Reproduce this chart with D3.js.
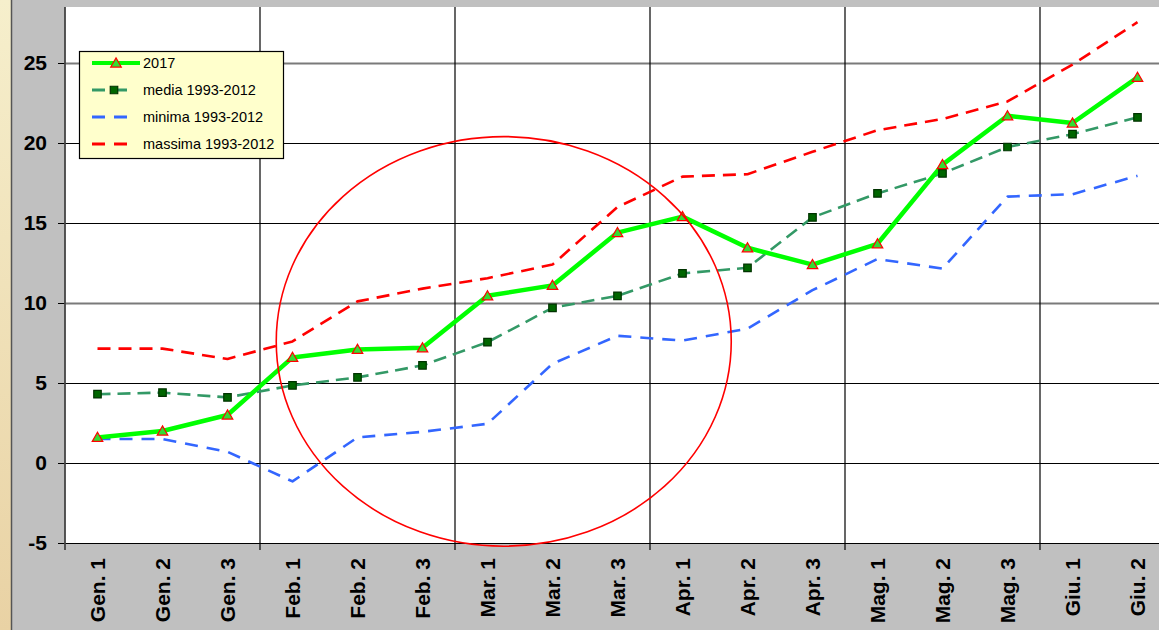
<!DOCTYPE html>
<html>
<head>
<meta charset="utf-8">
<script src="https://cdn.jsdelivr.net/npm/d3@7"></script>
<style>
  body { margin: 0; background: #fff; }
  svg { display: block; font-family: "Liberation Sans", Arial, sans-serif; }
</style>
</head>
<body>
<svg id="chart" width="1159" height="630"></svg>
<script>
// categories (decadi)
const categories = ["Gen. 1", "Gen. 2", "Gen. 3", "Feb. 1", "Feb. 2", "Feb. 3",
                    "Mar. 1", "Mar. 2", "Mar. 3", "Apr. 1", "Apr. 2", "Apr. 3",
                    "Mag. 1", "Mag. 2", "Mag. 3", "Giu. 1", "Giu. 2"];

const values2017 = [1.6, 2.0, 3.0, 6.6, 7.1, 7.2, 10.45, 11.1, 14.4, 15.4, 13.45, 12.4, 13.7, 18.65, 21.7, 21.25, 24.1];
const media      = [4.3, 4.4, 4.1, 4.85, 5.35, 6.1, 7.55, 9.7, 10.45, 11.85, 12.2, 15.35, 16.85, 18.1, 19.75, 20.55, 21.6];
const minima     = [1.5, 1.5, 0.7, -1.15, 1.6, 1.95, 2.45, 6.2, 7.95, 7.65, 8.4, 10.8, 12.75, 12.15, 16.65, 16.8, 17.95];
const massima    = [7.15, 7.15, 6.5, 7.6, 10.1, 10.9, 11.55, 12.4, 16.0, 17.9, 18.05, 19.45, 20.8, 21.5, 22.6, 24.9, 27.55];

const yTicks = [-5, 0, 5, 10, 15, 20, 25];

// annotation ellipse in data units (category index, value)
const ellipse = { cx: 6.75, cy: 7.6, rx: 3.5, ry: 12.8 };

const svg = d3.select("#chart"),
      W = +svg.attr("width"),
      H = +svg.attr("height");

const plot = { left: 65, top: 7, bottom: 543 };
const band = 65;

const x = d3.scaleBand()
    .domain(categories)
    .range([plot.left, plot.left + band * categories.length])
    .padding(0);

const xi = d3.scaleLinear()
    .domain([0, categories.length])
    .range([plot.left, plot.left + band * categories.length]);

const y = d3.scaleLinear()
    .domain([-5, 28.5])
    .range([plot.bottom, plot.top]);

const cx = d => x(d) + x.bandwidth() / 2;

// background
const defs = svg.append("defs");
const grad = defs.append("linearGradient").attr("id", "beige")
    .attr("x1", 0).attr("y1", 0).attr("x2", 0).attr("y2", 1);
grad.append("stop").attr("offset", "0%").attr("stop-color", "#f6efcc");
grad.append("stop").attr("offset", "100%").attr("stop-color", "#e9d2a4");

svg.append("rect").attr("x", 0).attr("y", 0).attr("width", 11).attr("height", H).attr("fill", "url(#beige)");
svg.append("rect").attr("x", 11).attr("y", 0).attr("width", W - 11).attr("height", H).attr("fill", "#c0c0c0");
svg.append("line").attr("x1", 11.5).attr("x2", 11.5).attr("y1", 0).attr("y2", H)
    .attr("stroke", "#555").attr("stroke-width", 1.5);

svg.append("rect")
    .attr("x", plot.left).attr("y", plot.top)
    .attr("width", W - plot.left).attr("height", plot.bottom - plot.top)
    .attr("fill", "#fff");

// y axis (hyphen minus as in the original)
const yAxis = svg.append("g")
    .attr("transform", `translate(${plot.left},0)`)
    .call(d3.axisLeft(y).tickValues(yTicks).tickSize(7).tickPadding(11).tickFormat(d => String(d)));
yAxis.select(".domain").remove();
yAxis.selectAll("text")
    .attr("font-size", "21px").attr("font-weight", "bold").attr("fill", "#000")
    .attr("font-family", "'Liberation Sans', Arial, sans-serif");
yAxis.selectAll(".tick line").attr("stroke", "#000");

// horizontal grid
svg.append("g").selectAll("line")
    .data(yTicks)
    .enter().append("line")
    .attr("x1", plot.left).attr("x2", W)
    .attr("y1", d => Math.round(y(d)) + 0.5).attr("y2", d => Math.round(y(d)) + 0.5)
    .attr("stroke", d => (d === 25 || d === 10) ? "#7a7a7a" : "#000")
    .attr("stroke-width", d => (d === 25 || d === 10) ? 2 : 1.2);

// vertical grid lines every month (3 decadi)
const monthBounds = d3.range(3, categories.length, 3);
svg.append("g").selectAll("line")
    .data(monthBounds)
    .enter().append("line")
    .attr("x1", d => xi(d)).attr("x2", d => xi(d))
    .attr("y1", plot.top).attr("y2", plot.bottom + 7)
    .attr("stroke", "#000").attr("stroke-width", 1.2);

// left axis line
svg.append("line")
    .attr("x1", plot.left).attr("x2", plot.left)
    .attr("y1", plot.top).attr("y2", plot.bottom + 7)
    .attr("stroke", "#444").attr("stroke-width", 1.8);

// x labels
svg.append("g").selectAll("text")
    .data(categories)
    .enter().append("text")
    .attr("transform", d => `translate(${cx(d)},558) rotate(-90)`)
    .attr("dy", "0.36em")
    .attr("text-anchor", "end")
    .attr("font-size", "21px")
    .attr("font-weight", "bold")
    .text(d => d);

// series
const series = [
    { name: "massima 1993-2012", values: massima, color: "#ff0000", width: 2.6, dash: "13,8" },
    { name: "minima 1993-2012", values: minima, color: "#3366ff", width: 2.6, dash: "13,9" },
    { name: "media 1993-2012", values: media, color: "#339966", width: 2.6, dash: "13,7", marker: "square" },
    { name: "2017", values: values2017, color: "#00ff00", width: 4.5, dash: null, marker: "triangle" }
];

const line = d3.line()
    .x((d, i) => cx(categories[i]))
    .y(d => y(d));

series.forEach(s => {
    svg.append("path")
        .datum(s.values)
        .attr("fill", "none")
        .attr("stroke", s.color)
        .attr("stroke-width", s.width)
        .attr("stroke-dasharray", s.dash)
        .attr("stroke-linejoin", "round")
        .attr("d", line);
});

const tri = d3.symbol().type(d3.symbolTriangle).size(48);
const sq = d3.symbol().type(d3.symbolSquare).size(56);

series.forEach(s => {
    if (!s.marker) return;
    svg.append("g").selectAll("path")
        .data(s.values)
        .enter().append("path")
        .attr("transform", (d, i) => `translate(${cx(categories[i])},${y(d) + (s.marker === "triangle" ? 1 : 0)})`)
        .attr("d", s.marker === "triangle" ? tri : sq)
        .attr("fill", s.marker === "triangle" ? "#33dd33" : "#006600")
        .attr("stroke", s.marker === "triangle" ? "#ff0000" : "#003300")
        .attr("stroke-width", 1.2);
});

// annotation ellipse
svg.append("ellipse")
    .attr("cx", xi(ellipse.cx))
    .attr("cy", y(ellipse.cy))
    .attr("rx", xi(ellipse.rx) - xi(0))
    .attr("ry", y(0) - y(ellipse.ry))
    .attr("fill", "none")
    .attr("stroke", "#ff0000")
    .attr("stroke-width", 1.6);

// legend
const legend = svg.append("g").attr("transform", "translate(79,51)");
legend.append("rect")
    .attr("x", 0.5).attr("y", 0.5).attr("width", 204).attr("height", 107)
    .attr("fill", "#ffffcc").attr("stroke", "#000").attr("stroke-width", 1.2);

const legendOrder = [series[3], series[2], series[1], series[0]];
legendOrder.forEach((s, i) => {
    const ly = 12 + i * 27;
    const item = legend.append("g").attr("transform", `translate(0,${ly})`);
    item.append("line")
        .attr("x1", 13).attr("x2", s.marker === "triangle" ? 61 : 56)
        .attr("y1", 0).attr("y2", 0)
        .attr("stroke", s.color)
        .attr("stroke-width", s.marker === "triangle" ? 4 : 3)
        .attr("stroke-dasharray", s.dash ? "13,9" : null);
    if (s.marker) {
        item.append("path")
            .attr("transform", `translate(${s.marker === "triangle" ? 37 : 35},${s.marker === "triangle" ? 1 : 0})`)
            .attr("d", s.marker === "triangle" ? tri : sq)
            .attr("fill", s.marker === "triangle" ? "#33dd33" : "#006600")
            .attr("stroke", s.marker === "triangle" ? "#ff0000" : "#003300")
            .attr("stroke-width", 1.2);
    }
    item.append("text")
        .attr("x", 64).attr("y", 0).attr("dy", "0.35em")
        .attr("font-size", "14.5px")
        .text(s.name);
});
</script>
</body>
</html>
